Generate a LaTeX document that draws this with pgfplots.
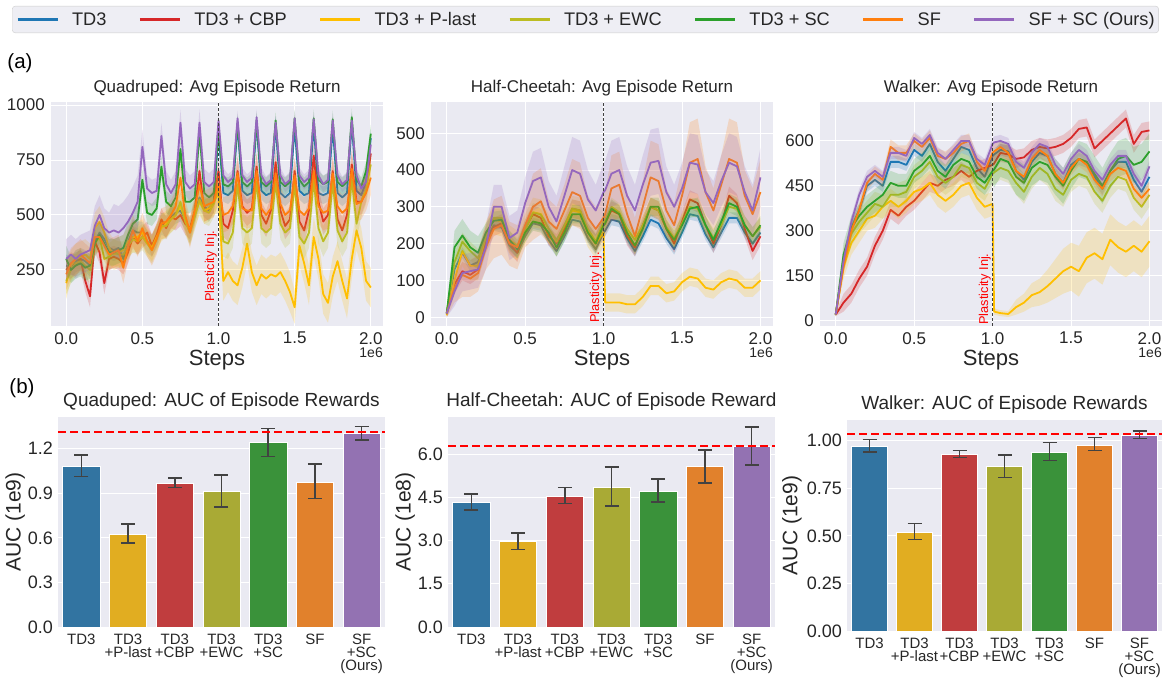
\documentclass[border=0pt]{standalone}
\usepackage{pgfplots}
\pgfplotsset{compat=1.18}
\usepackage{pgfplotstable}
\usepackage{fontspec}
\setmainfont{Liberation Sans}

\definecolor{bgc}{HTML}{EAEAF2}
\definecolor{tickc}{HTML}{262626}
\definecolor{errc}{HTML}{424242}
\definecolor{legc}{HTML}{CCCCCC}
\definecolor{legbg}{HTML}{EEEEF4}
\definecolor{cB}{HTML}{1F77B4}
\definecolor{cR}{HTML}{D62728}
\definecolor{cY}{HTML}{FFBF00}
\definecolor{cE}{HTML}{BCBD22}
\definecolor{cG}{HTML}{2CA02C}
\definecolor{cO}{HTML}{FF7F0E}
\definecolor{cP}{HTML}{9467BD}
\definecolor{bB}{HTML}{3274A1}
\definecolor{bY}{HTML}{E1AD21}
\definecolor{bR}{HTML}{C03D3E}
\definecolor{bE}{HTML}{A9AA35}
\definecolor{bG}{HTML}{3A923A}
\definecolor{bO}{HTML}{E1812C}
\definecolor{bP}{HTML}{9372B2}

% Quadruped
\pgfplotstableread{
x B R Y E G O P eB eR eY eE eG eO eP
0.0000 270 250 190 200 300 230 300 50 50 70 60 60 70 90
0.0313 260 280 270 250 250 280 320 50 50 70 60 60 70 90
0.0625 290 270 300 280 270 300 300 50 50 70 60 60 70 90
0.0938 300 300 310 290 280 320 320 50 50 70 60 60 70 90
0.1250 290 200 320 270 260 300 330 50 50 70 60 60 70 90
0.1563 270 130 300 250 270 280 340 50 50 70 60 60 70 90
0.1875 380 380 440 370 370 400 450 50 50 70 60 60 70 90
0.2188 420 330 470 400 410 400 500 50 50 70 60 60 70 90
0.2500 390 190 420 300 370 360 440 50 50 70 60 60 70 90
0.2813 350 300 350 310 330 320 420 50 50 70 60 60 70 90
0.3125 340 310 320 330 330 330 430 50 50 70 60 60 70 120
0.3438 350 300 330 320 340 340 420 50 50 70 60 60 70 120
0.3750 300 280 340 320 350 260 440 50 50 70 60 60 70 120
0.4063 380 330 380 360 410 360 470 50 50 70 60 60 70 120
0.4375 430 400 400 390 460 430 510 50 50 70 60 60 70 120
0.4688 420 370 400 380 480 380 560 50 50 70 60 60 70 120
0.5000 420 400 420 400 660 440 810 50 50 60 60 50 70 80
0.5313 380 420 380 370 510 380 620 50 50 60 60 50 70 60
0.5625 360 360 350 340 500 340 600 50 50 60 60 50 70 60
0.5938 400 410 400 390 530 390 610 50 50 60 60 50 70 60
0.6250 460 480 440 450 720 460 860 50 50 60 60 50 70 60
0.6563 450 440 460 450 560 470 640 50 50 60 60 50 70 60
0.6875 490 490 480 480 540 500 600 50 50 60 60 50 70 60
0.7188 510 480 500 500 580 540 640 50 50 60 60 50 70 60
0.7500 520 500 540 560 800 670 920 50 50 60 60 50 70 60
0.7813 480 460 480 470 560 500 650 50 50 60 60 50 70 60
0.8125 420 440 430 420 560 420 620 50 50 60 60 50 70 60
0.8438 510 520 500 490 580 520 640 50 50 60 60 50 70 60
0.8750 580 700 560 570 880 640 920 50 50 60 60 50 70 60
0.9063 540 520 520 520 600 540 650 50 50 60 60 50 70 60
0.9375 520 530 530 510 580 550 630 50 50 60 60 50 70 60
0.9688 560 560 560 550 600 560 650 50 50 60 60 50 70 60
1.0000 880 700 600 620 900 640 930 40 60 90 70 40 80 35
1.0313 600 460 200 380 640 500 680 40 60 90 70 40 80 35
1.0625 590 440 240 370 630 510 650 40 60 90 70 40 80 35
1.0938 610 520 200 420 650 540 670 40 60 90 70 40 80 35
1.1250 910 700 180 640 920 690 940 40 60 90 70 40 80 35
1.1563 610 540 260 440 650 530 680 40 60 90 70 40 80 35
1.1875 590 510 370 420 630 520 650 40 60 90 70 40 80 35
1.2188 600 530 240 440 650 520 670 40 60 90 70 40 80 35
1.2500 920 720 180 650 930 700 945 40 60 90 70 40 80 35
1.2813 610 500 230 440 650 530 680 40 60 90 70 40 80 35
1.3125 590 460 210 420 630 500 640 40 60 90 70 40 80 35
1.3438 600 520 230 440 650 530 660 40 60 90 70 40 80 35
1.3750 910 740 220 650 930 690 920 40 60 90 70 40 80 35
1.4063 600 520 240 460 650 550 680 40 60 90 70 40 80 35
1.4375 580 450 200 420 630 500 640 40 60 90 70 40 80 35
1.4688 600 480 150 440 650 520 660 40 60 90 70 40 80 35
1.5000 900 700 80 640 940 680 940 40 60 75 70 40 80 35
1.5313 610 470 360 400 660 520 680 40 60 90 70 40 80 35
1.5625 590 430 280 370 630 500 650 40 60 90 70 40 80 35
1.5938 600 520 180 420 650 530 670 40 60 90 70 40 80 35
1.6250 910 770 400 660 940 700 935 40 60 90 70 40 80 35
1.6563 600 560 300 440 660 540 680 40 60 90 70 40 80 35
1.6875 590 470 140 380 640 510 640 40 60 90 70 40 80 35
1.7188 600 500 100 420 650 520 660 40 60 90 70 40 80 35
1.7500 900 700 220 650 935 690 930 40 60 90 70 40 80 35
1.7813 600 480 290 430 650 540 680 40 60 90 70 40 80 35
1.8125 580 430 200 380 630 510 640 40 60 90 70 40 80 35
1.8438 600 500 120 420 650 530 660 40 60 90 70 40 80 35
1.8750 920 730 300 660 945 710 930 40 60 90 70 40 80 35
1.9063 610 560 430 460 660 550 680 40 60 90 70 40 80 35
1.9375 590 560 350 560 630 560 620 40 60 90 70 40 80 35
1.9688 650 620 200 620 700 600 650 40 60 90 70 40 80 35
2.0000 850 780 170 730 870 670 820 40 60 90 70 40 80 35
}\tQ

% Half-Cheetah
\pgfplotstableread{
x B R Y E G O P eB eR eY eE eG eO eP
0.00 10 10 5 10 10 10 10 5 5 5 5 5 10 10
0.05 130 90 100 150 190 80 70 15 25 40 25 45 40 40
0.10 175 125 180 205 222 115 120 15 25 40 25 45 60 50
0.15 140 115 140 180 190 105 125 15 25 40 25 45 50 50
0.20 150 130 140 160 175 120 130 15 25 40 25 45 50 50
0.25 210 200 220 220 230 190 190 15 25 40 25 25 60 60
0.30 250 245 265 270 262 240 300 15 25 40 25 25 80 60
0.35 245 255 260 270 265 250 300 15 25 40 25 25 80 60
0.40 195 200 210 210 210 200 215 15 25 40 25 25 60 60
0.45 175 175 195 190 185 190 230 15 25 40 25 25 60 60
0.50 220 240 240 240 230 250 310 15 25 40 25 25 60 70
0.55 255 280 285 285 260 300 370 15 25 40 25 25 90 80
0.60 250 270 280 280 255 315 380 15 25 40 25 25 90 80
0.65 210 220 240 240 230 260 300 15 25 40 25 25 60 70
0.70 180 200 205 210 190 240 260 15 25 40 25 25 60 70
0.75 220 240 250 250 230 290 330 15 25 40 25 25 70 80
0.80 265 295 290 295 280 340 400 15 25 40 25 25 90 90
0.85 260 290 285 290 280 330 390 15 25 40 25 25 90 90
0.90 215 230 230 240 230 270 320 15 25 40 25 25 60 80
0.95 185 200 200 205 200 240 290 15 25 40 25 25 60 70
1.00 230 250 230 260 250 270 340 15 25 40 25 25 60 80
1.01 235 255 40 265 255 280 345 15 25 25 25 25 60 80
1.05 265 290 40 300 295 350 390 15 25 25 25 25 90 90
1.10 260 280 40 285 280 360 400 15 25 25 25 25 90 90
1.15 215 220 35 240 230 280 330 15 25 25 25 25 60 80
1.20 180 190 35 210 195 220 290 15 25 25 25 25 50 70
1.25 220 250 55 250 240 300 360 15 25 25 25 25 70 80
1.30 265 300 85 300 300 380 420 15 25 25 25 25 100 90
1.35 255 290 85 290 300 370 425 15 25 25 25 25 100 90
1.40 215 240 65 245 240 290 340 15 25 25 25 25 60 70
1.45 185 200 70 215 210 250 300 15 25 25 25 25 60 60
1.50 230 260 95 255 250 330 350 15 25 25 25 25 80 70
1.55 280 320 110 300 295 420 420 15 25 25 25 25 110 80
1.60 275 310 105 295 300 430 415 15 25 25 25 25 110 80
1.65 225 250 80 250 250 340 340 15 25 25 25 25 70 60
1.70 190 200 75 215 210 290 310 15 25 25 25 25 60 60
1.75 230 250 95 250 260 360 370 15 25 25 25 25 80 70
1.80 270 330 105 300 310 430 420 15 25 25 25 25 110 80
1.85 270 310 100 295 300 420 410 15 25 25 25 25 110 80
1.90 230 240 80 250 250 330 340 15 25 25 25 25 70 70
1.95 200 180 80 220 220 280 290 15 25 25 25 25 70 70
2.00 230 220 100 245 250 340 380 15 25 25 25 25 90 80
}\tH

% Walker
\pgfplotstableread{
x B R Y E G O P eB eR eY eE eG eO eP
0.00 20 20 20 20 20 20 20 5 5 5 5 5 5 5
0.05 190 60 180 200 220 180 200 20 30 40 40 40 25 20
0.10 310 90 260 290 310 300 330 20 30 40 40 40 25 20
0.15 370 140 300 330 350 370 420 20 30 40 40 40 25 20
0.20 450 180 340 360 380 460 480 20 30 40 40 40 25 20
0.25 470 250 350 390 400 490 500 20 30 40 40 40 25 20
0.30 450 300 380 380 420 470 480 20 30 40 40 40 25 20
0.35 530 370 400 420 460 580 560 20 30 40 40 40 25 20
0.40 530 350 380 420 450 560 560 20 30 40 40 40 25 20
0.45 520 380 400 430 450 560 550 20 30 40 40 40 25 20
0.50 570 400 430 480 500 600 610 20 30 40 40 40 25 20
0.55 550 430 440 500 520 580 590 20 30 40 40 40 25 20
0.60 590 460 460 530 550 610 620 20 30 40 40 40 25 20
0.65 530 450 420 480 500 550 560 20 30 40 40 40 25 20
0.70 500 470 400 460 480 540 540 20 30 40 40 40 25 20
0.75 540 480 420 480 520 560 570 20 30 40 40 40 25 20
0.80 580 500 450 520 540 590 600 20 30 40 40 40 25 20
0.85 570 480 460 510 530 600 600 20 30 40 40 40 25 20
0.90 510 500 410 460 480 530 540 20 30 40 40 40 25 20
0.95 480 510 380 440 460 500 520 20 30 40 40 40 25 20
1.00 550 520 390 490 500 560 590 20 30 40 40 40 25 20
1.01 555 525 30 495 505 565 595 20 30 10 40 60 25 20
1.05 570 560 25 510 540 580 600 20 30 10 40 60 25 20
1.10 565 555 22 500 530 560 590 20 30 10 40 60 25 20
1.15 500 540 45 460 480 500 530 20 30 25 40 60 25 20
1.20 470 545 60 430 460 480 510 20 30 30 40 60 25 20
1.25 530 570 85 480 510 540 560 20 30 40 40 60 25 20
1.30 560 580 95 510 530 570 590 20 30 45 40 60 25 20
1.35 550 575 115 490 520 550 580 20 30 55 40 60 25 20
1.40 490 580 140 440 480 490 520 20 30 65 40 60 25 20
1.45 460 590 165 420 450 460 490 20 30 75 40 60 25 20
1.50 520 610 180 470 500 510 540 20 30 80 40 60 25 20
1.55 540 640 165 490 540 540 570 20 30 85 40 60 25 20
1.60 530 645 210 480 530 520 550 20 30 85 40 60 25 20
1.65 480 575 225 430 490 470 500 20 30 85 40 60 25 20
1.70 440 600 205 400 450 440 470 20 30 85 40 60 25 20
1.75 500 625 270 450 500 490 520 20 30 85 40 60 25 20
1.80 530 650 245 480 540 510 550 20 30 85 40 60 25 20
1.85 530 675 230 470 550 500 550 20 30 85 40 60 25 20
1.90 470 590 250 410 520 440 490 20 30 85 40 60 25 20
1.95 430 630 230 380 530 410 450 20 30 85 40 60 25 20
2.00 480 635 265 420 565 440 515 20 30 85 40 60 25 20
}\tW

% band = stacked area between mean-err and mean+err, then the mean line
\newcommand{\bandfirst}[3]{%
  \addplot[stack plots=y, draw=none, forget plot] table[x=x, y expr=\thisrow{#2}-\thisrow{e#2}] {#1};
  \addplot[stack plots=y, fill=#3, fill opacity=0.2, draw=none, forget plot] table[x=x, y expr=2*\thisrow{e#2}] {#1} \closedcycle;
  \addplot[color=#3, line width=1.8pt, line join=round, forget plot] table[x=x, y=#2] {#1};
}
\newcommand{\bandnext}[4]{%
  \addplot[stack plots=y, draw=none, forget plot] table[x=x, y expr=\thisrow{#2}-\thisrow{e#2}-\thisrow{#4}-\thisrow{e#4}] {#1};
  \addplot[stack plots=y, fill=#3, fill opacity=0.2, draw=none, forget plot] table[x=x, y expr=2*\thisrow{e#2}] {#1} \closedcycle;
  \addplot[color=#3, line width=1.8pt, line join=round, forget plot] table[x=x, y=#2] {#1};
}
\newcommand{\bbar}[5]{%
  \addplot[ybar, bar width=0.8, bar shift=0pt, fill=#1, draw=white, line width=0.6pt,
    error bars/.cd, y dir=both, y explicit,
    error bar style={line width=1.5pt, draw=errc, solid},
    error mark=|,
    error mark options={mark size=7pt, line width=1.5pt, draw=errc, solid}]
    coordinates {(#2,#3) += (0,#4) -= (0,#5)};
}

\pgfplotsset{
  common/.style={
    scale only axis,
    axis background/.style={fill=bgc},
    axis line style={draw=none},
    major tick length=0pt, minor tick length=0pt,
    tick style={draw=none},
    grid style={white, line width=1pt},
    /pgf/number format/assume math mode=true,
    /pgf/number format/1000 sep={},
    scaled x ticks=false, scaled y ticks=false,
    ticklabel style={text=tickc, inner sep=0pt},
    title style={text=tickc},
    every axis label/.append style={text=tickc},
  },
  topax/.style={
    common, grid=major,
    anchor=south west, width=342pt, height=224pt,
    xmin=-0.1, xmax=2.08,
    xtick={0,0.5,1,1.5,2},
    xticklabel style={/pgf/number format/.cd, fixed, fixed zerofill, precision=1},
    ticklabel style={font=\fontsize{17}{20}\selectfont},
    xticklabel shift=6pt, yticklabel shift=6pt,
    xlabel={Steps},
    xlabel style={at={(axis description cs:0.5,0)}, anchor=north, yshift=-24pt, inner sep=0pt, font=\fontsize{22}{26}\selectfont},
    title style={font=\fontsize{17}{20}\selectfont, inner sep=0pt},
  },
  barax/.style={
    common, ymajorgrids,
    anchor=south west, width=327pt, height=210pt,
    xmin=-0.5, xmax=6.5, ymin=0,
    xtick={0,1,2,3,4,5,6},
    xticklabels={TD3,{TD3\\[-3pt]+P-last},{TD3\\[-3pt]+CBP},{TD3\\[-3pt]+EWC},{TD3\\[-3pt]+SC},SF,{SF\\[-3pt]+SC\\[-3pt](Ours)}},
    xticklabel style={align=center, anchor=north, font=\fontsize{15}{16}\selectfont},
    xticklabel shift=7pt,
    yticklabel style={font=\fontsize{18}{20}\selectfont, /pgf/number format/.cd, fixed, fixed zerofill},
    yticklabel shift=5pt,
    ylabel style={at={(axis description cs:-0.131,0.5)}, anchor=center, font=\fontsize{21}{24}\selectfont},
    title style={font=\fontsize{19}{22}\selectfont, inner sep=0pt},
  },
}

\begin{document}
\begin{tikzpicture}
\useasboundingbox (0,0) rectangle (1166pt,682pt);

% legend
\begin{axis}[at={(0pt,0pt)}, anchor=south west, scale only axis, width=1166pt, height=682pt,
  hide axis, xmin=0, xmax=1, ymin=0, ymax=1,
  legend columns=7,
  legend style={at={(0.5021,0.9714)}, anchor=center, draw=legc, fill=legbg, rounded corners=3pt,
    font=\fontsize{18.2}{21}\selectfont, text=tickc, inner xsep=4pt, inner ysep=4pt,
    nodes={inner xsep=0pt, inner ysep=2pt},
    /tikz/every odd column/.append style={column sep=13pt},
    /tikz/every even column/.append style={column sep=32pt}},
  legend image code/.code={\draw[#1, line width=2.8pt] (0pt,0pt) -- (40pt,0pt);}]
\addlegendimage{cB}\addlegendentry{TD3}
\addlegendimage{cR}\addlegendentry{TD3 + CBP}
\addlegendimage{cY}\addlegendentry{TD3 + P-last}
\addlegendimage{cE}\addlegendentry{TD3 + EWC}
\addlegendimage{cG}\addlegendentry{TD3 + SC}
\addlegendimage{cO}\addlegendentry{SF}
\addlegendimage{cP}\addlegendentry{SF + SC (Ours)}
\end{axis}

\node[font=\fontsize{20.5}{24}\selectfont] at (20pt,619pt) {(a)};
\node[font=\fontsize{20.5}{24}\selectfont] at (22pt,294pt) {(b)};
\node[anchor=north east, inner sep=0pt, text=tickc, font=\fontsize{14}{16}\selectfont] at (383pt,334pt) {1e6};
\node[anchor=north east, inner sep=0pt, text=tickc, font=\fontsize{14}{16}\selectfont] at (773pt,334pt) {1e6};
\node[anchor=north east, inner sep=0pt, text=tickc, font=\fontsize{14}{16}\selectfont] at (1162pt,334pt) {1e6};

% Quadruped
\begin{axis}[topax, at={(51pt,356pt)}, width=332pt, ymin=-5, ymax=1014, ytick={250,500,750,1000},
  title={Quadruped: Avg Episode Return}]
\bandfirst{\tQ}{B}{cB}
\bandnext{\tQ}{R}{cR}{B}
\bandnext{\tQ}{Y}{cY}{R}
\bandnext{\tQ}{E}{cE}{Y}
\bandnext{\tQ}{G}{cG}{E}
\bandnext{\tQ}{O}{cO}{G}
\bandnext{\tQ}{P}{cP}{O}
\addplot[forget plot, densely dashed, black!75, line width=0.9pt] coordinates {(1,-5) (1,1014)};
\node[rotate=90, anchor=south west, inner sep=0pt, text=red, font=\fontsize{12.8}{14}\selectfont] at (axis cs:0.99,105) {Plasticity Inj.};
\end{axis}

% Half-Cheetah
\begin{axis}[topax, at={(431pt,356pt)}, ymin=-24, ymax=585, ytick={0,100,200,300,400,500},
  title={Half-Cheetah: Avg Episode Return}]
\bandfirst{\tH}{B}{cB}
\bandnext{\tH}{R}{cR}{B}
\bandnext{\tH}{Y}{cY}{R}
\bandnext{\tH}{E}{cE}{Y}
\bandnext{\tH}{G}{cG}{E}
\bandnext{\tH}{O}{cO}{G}
\bandnext{\tH}{P}{cP}{O}
\addplot[forget plot, densely dashed, black!75, line width=0.9pt] coordinates {(1,-24) (1,585)};
\node[rotate=90, anchor=south west, inner sep=0pt, text=red, font=\fontsize{12.8}{14}\selectfont] at (axis cs:0.99,-16) {Plasticity Inj.};
\end{axis}

% Walker
\begin{axis}[topax, at={(820pt,356pt)}, ymin=-18, ymax=730, ytick={0,150,300,450,600},
  title={Walker: Avg Episode Return}]
\bandfirst{\tW}{B}{cB}
\bandnext{\tW}{R}{cR}{B}
\bandnext{\tW}{Y}{cY}{R}
\bandnext{\tW}{E}{cE}{Y}
\bandnext{\tW}{G}{cG}{E}
\bandnext{\tW}{O}{cO}{G}
\bandnext{\tW}{P}{cP}{O}
\addplot[forget plot, densely dashed, black!75, line width=0.9pt] coordinates {(1,-18) (1,730)};
\node[rotate=90, anchor=south west, inner sep=0pt, text=red, font=\fontsize{12.8}{14}\selectfont] at (axis cs:0.99,-14) {Plasticity Inj.};
\end{axis}

% Quadruped AUC
\begin{axis}[barax, at={(58pt,55pt)}, ymax=1.413, ytick={0,0.3,0.6,0.9,1.2},
  yticklabel style={/pgf/number format/precision=1},
  ylabel={AUC (1e9)}, title={Quaduped: AUC of Episode Rewards}]
\bbar{bB}{0}{1.083}{0.074}{0.072}
\bbar{bY}{1}{0.625}{0.067}{0.059}
\bbar{bR}{2}{0.966}{0.038}{0.029}
\bbar{bE}{3}{0.910}{0.112}{0.101}
\bbar{bG}{4}{1.240}{0.097}{0.094}
\bbar{bO}{5}{0.975}{0.122}{0.112}
\bbar{bP}{6}{1.303}{0.045}{0.045}
\addplot[forget plot, red, dash pattern=on 8pt off 4pt, line width=2pt] coordinates {(-0.5,1.31) (6.5,1.31)};
\end{axis}

% Half-Cheetah AUC
\begin{axis}[barax, at={(448pt,55pt)}, ymax=7.30, ytick={0,1.5,3,4.5,6},
  yticklabel style={/pgf/number format/precision=1},
  ylabel={AUC (1e8)}, title={Half-Cheetah: AUC of Episode Reward}]
\bbar{bB}{0}{4.33}{0.29}{0.27}
\bbar{bY}{1}{2.98}{0.29}{0.28}
\bbar{bR}{2}{4.56}{0.29}{0.27}
\bbar{bE}{3}{4.87}{0.70}{0.67}
\bbar{bG}{4}{4.73}{0.42}{0.38}
\bbar{bO}{5}{5.57}{0.59}{0.56}
\bbar{bP}{6}{6.28}{0.68}{0.65}
\addplot[forget plot, red, dash pattern=on 8pt off 4pt, line width=2pt] coordinates {(-0.5,6.29) (6.5,6.29)};
\end{axis}

% Walker AUC
\begin{axis}[barax, at={(847pt,51pt)}, width=315pt, height=211pt, ymax=1.109, ytick={0,0.25,0.5,0.75,1},
  yticklabel style={/pgf/number format/precision=2},
  ylabel style={at={(axis description cs:-0.175,0.5)}},
  ylabel={AUC (1e9)}, title={Walker: AUC of Episode Rewards}]
\bbar{bB}{0}{0.970}{0.037}{0.029}
\bbar{bY}{1}{0.518}{0.046}{0.038}
\bbar{bR}{2}{0.927}{0.021}{0.014}
\bbar{bE}{3}{0.864}{0.061}{0.056}
\bbar{bG}{4}{0.941}{0.050}{0.046}
\bbar{bO}{5}{0.977}{0.039}{0.029}
\bbar{bP}{6}{1.028}{0.024}{0.016}
\addplot[forget plot, red, dash pattern=on 8pt off 4pt, line width=2pt] coordinates {(-0.5,1.033) (6.5,1.033)};
\end{axis}
\end{tikzpicture}
\end{document}
